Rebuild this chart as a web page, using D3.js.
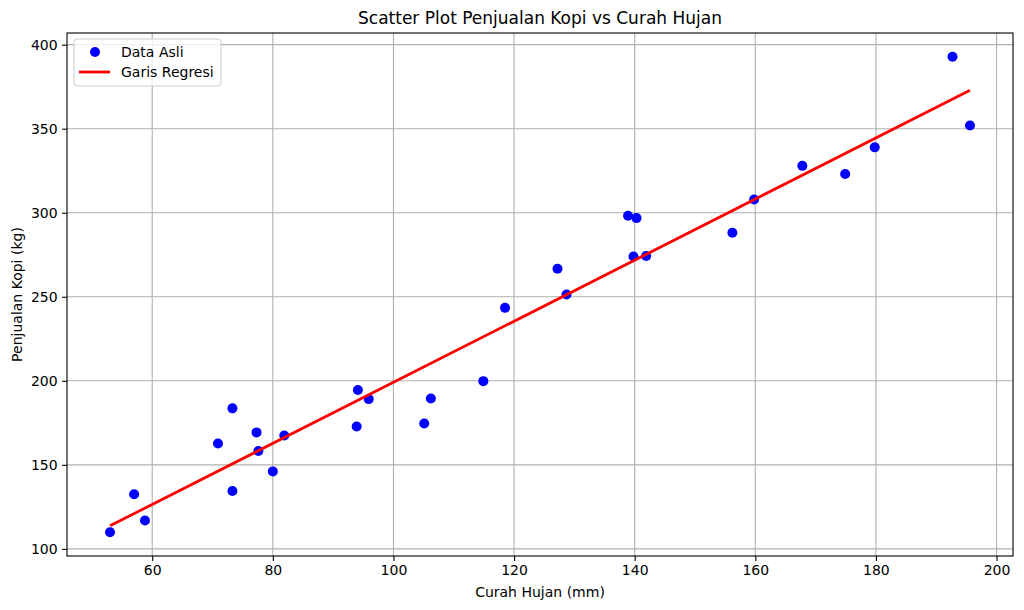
<!DOCTYPE html>
<html>
<head>
<meta charset="utf-8">
<script src="https://cdn.jsdelivr.net/npm/d3@7"></script>
<style>
  body { margin: 0; background: #fff; }
  text { font-family: "DejaVu Sans", sans-serif; fill: #000; }
</style>
</head>
<body>
<div id="chart"></div>
<script>
// curah hujan (mm) and penjualan kopi (kg)
const rainfall = [53.0, 57.0, 58.8, 70.9, 73.3, 73.3, 77.3, 77.6, 80.0, 81.9,
  94.1, 93.9, 95.9, 105.1, 106.2, 114.9, 118.5, 127.2, 128.7, 138.9,
  140.3, 139.8, 141.9, 156.2, 159.8, 167.8, 174.9, 179.8, 192.7, 195.6];
const sales = [109.9, 132.5, 116.9, 162.7, 183.6, 134.4, 169.3, 158.2, 146.1, 167.5,
  194.5, 172.8, 189.1, 174.6, 189.5, 199.8, 243.4, 266.7, 251.4, 298.2,
  296.8, 274.0, 274.3, 288.1, 307.9, 327.9, 323.0, 338.9, 392.8, 351.9];

const xTicks = [60, 80, 100, 120, 140, 160, 180, 200];
const yTicks = [100, 150, 200, 250, 300, 350, 400];

const W = 1024, H = 610;
const margin = { top: 33, right: 11, bottom: 54, left: 67 };
const w = W - margin.left - margin.right;
const h = H - margin.top - margin.bottom;

// least squares fit, like the original regression
const mx = d3.mean(rainfall), my = d3.mean(sales);
const slope = d3.sum(rainfall, (x, i) => (x - mx) * (sales[i] - my)) /
              d3.sum(rainfall, x => (x - mx) * (x - mx));
const intercept = my - slope * mx;

const xExt = d3.extent(rainfall), yExt = d3.extent(sales);
const xPad = (xExt[1] - xExt[0]) * 0.05, yPad = (yExt[1] - yExt[0]) * 0.05;

const x = d3.scaleLinear().domain([xExt[0] - xPad, xExt[1] + xPad]).range([0, w]);
const y = d3.scaleLinear().domain([yExt[0] - yPad, yExt[1] + yPad]).range([h, 0]);

const svg = d3.select('#chart').append('svg')
  .attr('width', W).attr('height', H);

const plot = svg.append('g')
  .attr('transform', `translate(${margin.left},${margin.top})`);

// grid
plot.append('g').selectAll('line').data(xTicks).join('line')
  .attr('x1', d => x(d)).attr('x2', d => x(d))
  .attr('y1', 0).attr('y2', h)
  .attr('stroke', '#b0b0b0').attr('stroke-width', 1.1);
plot.append('g').selectAll('line').data(yTicks).join('line')
  .attr('x1', 0).attr('x2', w)
  .attr('y1', d => y(d)).attr('y2', d => y(d))
  .attr('stroke', '#b0b0b0').attr('stroke-width', 1.1);

// points
plot.append('g').selectAll('circle').data(rainfall).join('circle')
  .attr('cx', d => x(d))
  .attr('cy', (d, i) => y(sales[i]))
  .attr('r', 5)
  .attr('fill', '#0000ff');

// regression line
const lineX = [d3.min(rainfall), d3.max(rainfall)];
plot.append('path')
  .datum(lineX)
  .attr('d', d3.line().x(d => x(d)).y(d => y(intercept + slope * d)))
  .attr('stroke', '#ff0000').attr('stroke-width', 2.8).attr('fill', 'none');

// axes
const xAxis = plot.append('g').attr('transform', `translate(0,${h})`)
  .call(d3.axisBottom(x).tickValues(xTicks).tickSize(4.9).tickPadding(4.5));
const yAxis = plot.append('g')
  .call(d3.axisLeft(y).tickValues(yTicks).tickSize(4.9).tickPadding(4.5));
[xAxis, yAxis].forEach(a => {
  a.select('.domain').remove();
  a.selectAll('line').attr('stroke', '#000').attr('stroke-width', 1.1);
  a.selectAll('text').style('font-family', '"DejaVu Sans", sans-serif')
    .style('font-size', '14px').attr('fill', '#000');
});

plot.append('rect')
  .attr('width', w).attr('height', h)
  .attr('fill', 'none').attr('stroke', '#000').attr('stroke-width', 1.1);

// labels
svg.append('text').attr('x', margin.left + w / 2).attr('y', 24)
  .attr('text-anchor', 'middle').style('font-size', '17px')
  .text('Scatter Plot Penjualan Kopi vs Curah Hujan');
svg.append('text').attr('x', margin.left + w / 2).attr('y', 597)
  .attr('text-anchor', 'middle').style('font-size', '14px')
  .text('Curah Hujan (mm)');
svg.append('text')
  .attr('transform', `translate(22,${margin.top + h / 2}) rotate(-90)`)
  .attr('text-anchor', 'middle').style('font-size', '14px')
  .text('Penjualan Kopi (kg)');

// legend
const legend = svg.append('g').attr('transform', `translate(${margin.left + 7},${margin.top + 6})`);
legend.append('rect')
  .attr('width', 147).attr('height', 47).attr('rx', 3)
  .attr('fill', '#fff').attr('fill-opacity', 0.8)
  .attr('stroke', '#cccccc').attr('stroke-width', 1);
legend.append('circle').attr('cx', 21).attr('cy', 13).attr('r', 5).attr('fill', '#0000ff');
legend.append('line').attr('x1', 5).attr('x2', 36).attr('y1', 33).attr('y2', 33)
  .attr('stroke', '#ff0000').attr('stroke-width', 2.8);
legend.append('text').attr('x', 47).attr('y', 18).style('font-size', '14px').text('Data Asli');
legend.append('text').attr('x', 47).attr('y', 38).style('font-size', '14px').text('Garis Regresi');
</script>
</body>
</html>
